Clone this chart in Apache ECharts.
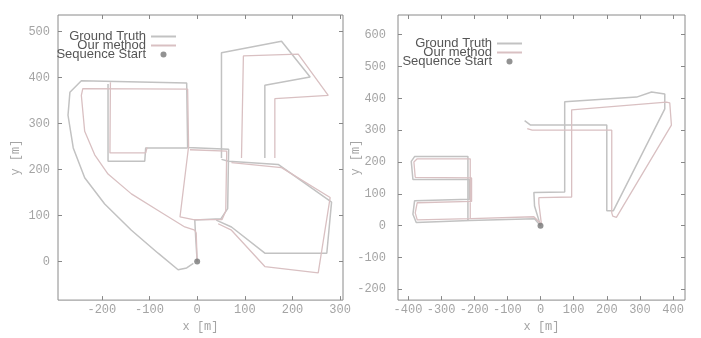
<!DOCTYPE html>
<html>
<head>
<meta charset="utf-8">
<script src="https://cdn.jsdelivr.net/npm/echarts@6/dist/echarts.min.js"></script>
<style>
  html, body { margin: 0; padding: 0; background: #fff; }
  #chart { width: 701px; height: 338px; }
</style>
</head>
<body>
<div id="chart"></div>
<script>
// tick labels
var leftXTicks = [-200, -100, 0, 100, 200, 300];
var leftYTicks = [0, 100, 200, 300, 400, 500];
var rightXTicks = [-400, -300, -200, -100, 0, 100, 200, 300, 400];
var rightYTicks = [-200, -100, 0, 100, 200, 300, 400, 500, 600];

// left sequence, ground truth (x, y in metres)
var gtLeftA = [[0,0],[-3,50],[-5,90],[50,93],[64,115],[66,244],[-20,248],[-22,388],[-243,393],[-267,368],[-271,318],[-260,247],[-236,182],[-194,125],[-138,68],[-82,18],[-40,-18],[-22,-14],[-8,-4]];
var gtLeftB = [[-187,386],[-187,218],[-110,218],[-108,247],[-20,247]];
var gtLeftC = [[51,225],[51,454],[177,479],[237,401],[142,383],[142,225]];
var gtLeftD = [[51,222],[66,218],[170,211],[282,129],[272,18],[142,18],[72,75],[40,90]];
// left sequence, our method
var ourLeftA = [[0,0],[-2,62],[-5,68],[-26,75],[-82,111],[-138,147],[-187,190],[-215,232],[-236,283],[-243,361],[-240,376],[-20,375],[-18,250],[-36,97],[-8,91],[52,91],[60,110],[62,240],[-15,243]];
var ourLeftB = [[-182,390],[-183,236],[-108,236],[-105,248]];
var ourLeftC = [[93,225],[97,447],[212,451],[275,361],[163,354],[163,225]];
var ourLeftD = [[72,215],[177,204],[279,139],[254,-25],[142,-11],[72,68],[44,82]];

// right sequence, ground truth
var gtRightA = [[0,0],[-18,22],[-214,16],[-375,10],[-385,36],[-380,78],[-214,83],[-214,145],[-385,145],[-390,202],[-380,217],[-219,217],[-219,15]];
var gtRightB = [[0,0],[-18,62],[-20,104],[73,106],[73,389],[290,404],[335,420],[375,414],[375,367],[220,47],[215,45],[200,47],[200,316],[-30,316],[-48,330]];
// right sequence, our method
var ourRightA = [[2,5],[-20,28],[-210,22],[-372,18],[-378,40],[-372,72],[-208,76],[-208,150],[-378,152],[-382,200],[-372,210],[-212,210],[-212,22]];
var ourRightB = [[3,3],[-5,70],[-5,88],[94,90],[94,364],[380,388],[390,386],[395,316],[229,26],[218,30],[215,40],[215,300],[-25,300],[-40,305]];

var startPoint = [[0, 0]];

var gtColor = '#c2c2c2';
var ourColor = '#d9c0c2';
var tickFont = { fontFamily: 'Liberation Mono', fontSize: 12, color: '#a4a4a4' };

function lineSeries(name, data, axis, color, width) {
  return {
    type: 'line', name: name, data: data,
    xAxisIndex: axis, yAxisIndex: axis,
    symbol: 'none', showSymbol: false, silent: true,
    lineStyle: { color: color, width: width },
    itemStyle: { color: color }
  };
}

function xAx(grid, min, max, ticks, top) {
  return {
    type: 'value', gridIndex: grid, min: min, max: max,
    position: top ? 'top' : 'bottom',
    axisLine: { show: false, onZero: false },
    axisTick: { show: true, inside: true, length: 4, customValues: ticks, lineStyle: { color: '#888' } },
    axisLabel: top ? { show: false } : Object.assign({ customValues: ticks, margin: 4 }, tickFont),
    splitLine: { show: false },
    name: top ? '' : 'x [m]', nameLocation: 'middle', nameGap: 17,
    nameTextStyle: tickFont
  };
}

function yAx(grid, min, max, ticks, right, margin, gap) {
  return {
    type: 'value', gridIndex: grid, min: min, max: max,
    position: right ? 'right' : 'left',
    axisLine: { show: false, onZero: false },
    axisTick: { show: true, inside: true, length: 4, customValues: ticks, lineStyle: { color: '#888' } },
    axisLabel: right ? { show: false } : Object.assign({ customValues: ticks, margin: margin }, tickFont),
    splitLine: { show: false },
    name: right ? '' : 'y [m]', nameLocation: 'middle', nameGap: gap, nameMoveOverlap: false,
    nameTextStyle: tickFont
  };
}

function legendAt(right, top) {
  return {
    orient: 'vertical', right: right, top: top, align: 'right',
    itemWidth: 25, itemHeight: 6, itemGap: -4,
    textStyle: { fontFamily: 'Liberation Sans', fontSize: 13, color: '#555', lineHeight: 10 },
    data: [
      { name: 'Ground Truth', itemStyle: { opacity: 0 } },
      { name: 'Our method', itemStyle: { opacity: 0 } },
      'Sequence Start'
    ]
  };
}

var chart = echarts.init(document.getElementById('chart'));
chart.setOption({
  backgroundColor: '#fff',
  animation: false,
  legend: [legendAt(519, 25), legendAt(173, 32)],
  grid: [
    { left: 58, top: 15, width: 285, height: 289, show: true, borderColor: '#8a8a8a', borderWidth: 1 },
    { left: 398, top: 15, width: 287, height: 289, show: true, borderColor: '#8a8a8a', borderWidth: 1 }
  ],
  xAxis: [
    xAx(0, -292, 306, leftXTicks, false), xAx(0, -292, 306, leftXTicks, true),
    xAx(1, -430, 436, rightXTicks, false), xAx(1, -430, 436, rightXTicks, true)
  ],
  yAxis: [
    yAx(0, -84, 536, leftYTicks, false, 8, 36), yAx(0, -84, 536, leftYTicks, true),
    yAx(1, -234, 662, rightYTicks, false, 12, 36), yAx(1, -234, 662, rightYTicks, true)
  ],
  series: [
    lineSeries('Ground Truth', gtLeftA, 0, gtColor, 1.5),
    lineSeries('Ground Truth', gtLeftB, 0, gtColor, 1.5),
    lineSeries('Ground Truth', gtLeftC, 0, gtColor, 1.5),
    lineSeries('Ground Truth', gtLeftD, 0, gtColor, 1.5),
    lineSeries('Our method', ourLeftA, 0, ourColor, 1.3),
    lineSeries('Our method', ourLeftB, 0, ourColor, 1.3),
    lineSeries('Our method', ourLeftC, 0, ourColor, 1.3),
    lineSeries('Our method', ourLeftD, 0, ourColor, 1.3),
    lineSeries('Ground Truth', gtRightA, 2, gtColor, 1.5),
    lineSeries('Ground Truth', gtRightB, 2, gtColor, 1.5),
    lineSeries('Our method', ourRightA, 2, ourColor, 1.3),
    lineSeries('Our method', ourRightB, 2, ourColor, 1.3),
    { type: 'scatter', name: 'Sequence Start', data: startPoint, xAxisIndex: 0, yAxisIndex: 0,
      symbol: 'circle', symbolSize: 6, itemStyle: { color: '#777' }, silent: true, z: 5 },
    { type: 'scatter', name: 'Sequence Start', data: startPoint, xAxisIndex: 2, yAxisIndex: 2,
      symbol: 'circle', symbolSize: 6, itemStyle: { color: '#777' }, silent: true, z: 5 }
  ]
});
</script>
</body>
</html>
